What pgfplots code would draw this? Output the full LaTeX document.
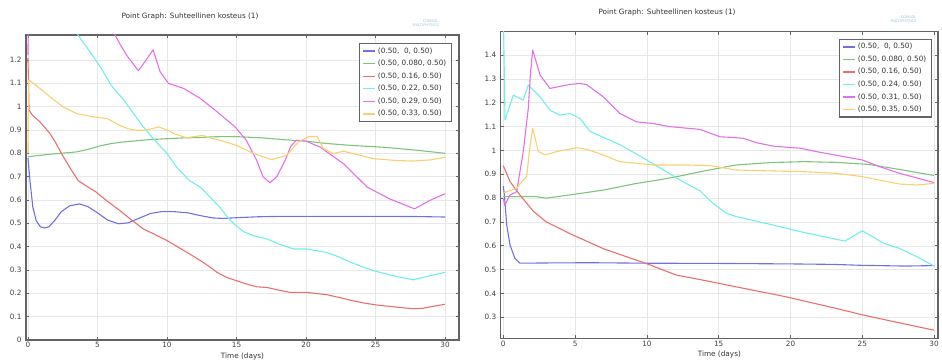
\documentclass[border=0pt]{standalone}
\usepackage{fontspec}
\setmainfont{DejaVu Sans}
\usepackage{pgfplots}
\pgfplotsset{compat=1.18}

\definecolor{cBlue}{RGB}{112,112,228}
\definecolor{cGreen}{RGB}{124,198,124}
\definecolor{cRed}{RGB}{234,112,112}
\definecolor{cCyan}{RGB}{112,238,238}
\definecolor{cPink}{RGB}{226,112,230}
\definecolor{cYellow}{RGB}{248,208,112}
\definecolor{frameGray}{RGB}{100,100,100}
\definecolor{logoBlue}{RGB}{150,195,220}

\newcommand{\smallfont}{\fontsize{7.3}{8.6}\selectfont}

\pgfplotsset{
  rhpanel/.style={
    scale only axis, anchor=south west,
    axis line style={draw=frameGray, line width=1.3pt},
    major tick style={draw=frameGray, line width=0.7pt},
    major tick length=3pt,
    grid=major, grid style={black!9, line width=0.5pt},
    xtick={0,5,...,30},
    tick label style={font=\smallfont, text=black!75},
    /pgf/number format/assume math mode=true,
    yticklabel style={xshift=-1pt},
    xticklabel style={yshift=1pt},
    xlabel={Time (days)},
    xlabel style={font=\smallfont, text=black!80, yshift=2pt},
    every axis plot/.append style={line width=1.1pt, no markers, line join=round},
    legend cell align=left,
    legend style={font=\smallfont, text=black!80, draw=frameGray, line width=1.3pt,
      fill=white, inner xsep=3pt, inner ysep=2pt, row sep=1.5pt,
      at={(1,1)}, anchor=north east},
  }
}

\begin{document}
\begin{tikzpicture}
\path[use as bounding box] (0pt,0pt) rectangle (942pt,361pt);

% ---------------- left panel ----------------
\begin{axis}[rhpanel, at={(26pt,21pt)}, width=433pt, height=305pt,
  xmin=-0.14, xmax=31.0, ymin=0, ymax=1.307,
  ytick={0,0.1,...,1.21},
  legend image code/.code={\draw[#1, line width=1.4pt] (0pt,0pt) -- (12pt,0pt);},
  legend style={xshift=-7pt, yshift=-8pt}]
\addplot[color=cBlue] coordinates {(0,0.78) (0.15,0.68) (0.35,0.57) (0.6,0.51) (0.9,0.485) (1.2,0.48) (1.5,0.485) (1.9,0.51) (2.4,0.55) (3.0,0.575) (3.7,0.583) (4.3,0.572) (5.0,0.545) (5.7,0.515) (6.5,0.498) (7.2,0.502) (8.0,0.522) (8.8,0.542) (9.6,0.55) (10.5,0.55) (11.5,0.545) (12.4,0.533) (13.3,0.523) (14.05,0.521) (15,0.524) (16.5,0.528) (18.3,0.53) (20,0.53) (22,0.53) (25,0.53) (28,0.529) (30,0.527)};
\addlegendentry{(0.50,\ \ 0, 0.50)}
\addplot[color=cGreen] coordinates {(0,0.785) (0.5,0.789) (1.6,0.796) (3.5,0.806) (4.4,0.818) (5.2,0.832) (6.0,0.842) (6.9,0.849) (8.8,0.859) (11.2,0.866) (12.4,0.868) (13.5,0.871) (14.8,0.872) (16.9,0.866) (18.5,0.858) (20,0.852) (21.5,0.842) (23.2,0.834) (25.6,0.826) (28,0.813) (30,0.800)};
\addlegendentry{(0.50, 0.080, 0.50)}
\addplot[color=cRed] coordinates {(0,1.21) (0.08,0.985) (0.3,0.965) (0.86,0.935) (1.58,0.885) (2.0,0.845) (2.4,0.80) (3.0,0.74) (3.6,0.684) (4.2,0.66) (4.9,0.634) (5.7,0.595) (6.6,0.555) (7.5,0.512) (8.3,0.476) (9.2,0.45) (10,0.426) (10.8,0.398) (11.65,0.368) (12.6,0.333) (13.1,0.312) (13.6,0.29) (14.3,0.268) (15,0.254) (15.7,0.24) (16.45,0.228) (17.2,0.225) (18,0.214) (18.85,0.204) (20.05,0.204) (21.5,0.194) (22.4,0.182) (23.4,0.168) (24.2,0.158) (25.1,0.15) (26.8,0.139) (27.7,0.134) (28.4,0.136) (29.2,0.145) (30,0.153)};
\addlegendentry{(0.50, 0.16, 0.50)}
\addplot[color=cCyan] coordinates {(2.5,1.45) (3.6,1.307) (4.4,1.24) (5.2,1.171) (6.0,1.09) (6.9,1.028) (7.6,0.97) (8.3,0.913) (9.2,0.85) (10,0.80) (10.7,0.74) (11.6,0.684) (12.4,0.655) (13.1,0.612) (13.8,0.569) (14.3,0.53) (14.8,0.498) (15.5,0.465) (16.2,0.447) (17.2,0.433) (18.1,0.41) (19.1,0.39) (20.05,0.39) (21.5,0.375) (22.4,0.355) (23.2,0.333) (24.0,0.315) (24.85,0.297) (26.3,0.275) (27.7,0.258) (28.9,0.275) (30,0.29)};
\addlegendentry{(0.50, 0.22, 0.50)}
\addplot[color=cPink] coordinates {(0,1.22) (0.06,1.6) (5.6,1.4) (6.26,1.307) (6.6,1.27) (7.1,1.22) (7.94,1.154) (8.5,1.2) (9.0,1.243) (9.5,1.15) (10.1,1.10) (11.2,1.078) (12.4,1.035) (13.6,0.978) (14.9,0.913) (15.7,0.856) (16.45,0.77) (16.9,0.70) (17.4,0.674) (17.9,0.70) (18.5,0.77) (18.9,0.83) (19.3,0.856) (20,0.852) (21,0.827) (22.7,0.755) (24.4,0.655) (26.0,0.605) (27.8,0.562) (28.9,0.598) (30,0.627)};
\addlegendentry{(0.50, 0.29, 0.50)}
\addplot[color=cYellow] coordinates {(0,0.80) (0.05,1.114) (0.4,1.10) (1.6,1.042) (2.5,1.0) (3.5,0.97) (4.7,0.956) (5.7,0.949) (6.6,0.92) (7.2,0.905) (7.8,0.899) (8.5,0.899) (9.4,0.913) (10.0,0.9) (10.5,0.885) (11.4,0.866) (12.0,0.872) (12.6,0.877) (13.1,0.866) (13.8,0.856) (15,0.834) (16.2,0.80) (17.5,0.773) (18.6,0.791) (19.45,0.849) (20.2,0.872) (20.8,0.872) (21.25,0.82) (21.95,0.799) (22.7,0.809) (24.85,0.777) (26.5,0.769) (27.7,0.767) (29,0.772) (30,0.784)};
\addlegendentry{(0.50, 0.33, 0.50)}
\end{axis}

% ---------------- right panel ----------------
\begin{axis}[rhpanel, at={(500.7pt,22.7pt)}, width=437.3pt, height=306.6pt,
  xmin=-0.18, xmax=30.27, ymin=0.212, ymax=1.498,
  ytick={0.3,0.4,...,1.41},
  legend image code/.code={\draw[#1, line width=1.4pt] (0pt,0pt) -- (12pt,0pt);},
  legend style={xshift=-6pt, yshift=-7pt}]
\addplot[color=cBlue] coordinates {(0,0.85) (0.08,0.813) (0.24,0.687) (0.47,0.603) (0.81,0.547) (1.16,0.527) (3,0.528) (6,0.529) (10,0.527) (15,0.526) (20,0.524) (23,0.522) (25,0.518) (28,0.515) (30,0.517)};
\addlegendentry{(0.50,\ \ 0, 0.50)}
\addplot[color=cGreen] coordinates {(0,0.806) (2.3,0.806) (3.0,0.80) (4.6,0.813) (7,0.834) (9.3,0.862) (10.9,0.877) (12.5,0.895) (13.9,0.913) (16.2,0.939) (18.6,0.949) (20.9,0.953) (23.2,0.95) (25.5,0.941) (27.8,0.918) (30,0.895)};
\addlegendentry{(0.50, 0.080, 0.50)}
\addplot[color=cRed] coordinates {(0,0.936) (0.47,0.869) (1.16,0.813) (2.09,0.745) (3.0,0.70) (4.64,0.651) (6.96,0.588) (9.98,0.525) (12.06,0.477) (13.9,0.456) (16.2,0.428) (19.7,0.386) (23.2,0.337) (25.1,0.309) (27.8,0.274) (30,0.246)};
\addlegendentry{(0.50, 0.16, 0.50)}
\addplot[color=cCyan] coordinates {(0,1.6) (0.12,1.128) (0.7,1.232) (1.39,1.211) (1.74,1.274) (2.56,1.225) (3.25,1.169) (3.94,1.148) (4.64,1.155) (5.34,1.134) (6.03,1.08) (6.96,1.055) (8.1,1.025) (9.7,0.97) (11.1,0.92) (12.3,0.876) (13.7,0.83) (14.6,0.778) (15.55,0.736) (16.25,0.722) (18.3,0.694) (20.7,0.659) (23.45,0.624) (23.8,0.62) (25.0,0.663) (26.5,0.61) (27.6,0.589) (28.8,0.554) (30,0.515)};
\addlegendentry{(0.50, 0.24, 0.50)}
\addplot[color=cPink] coordinates {(0,0.80) (0.1,0.77) (0.47,0.813) (0.93,0.827) (1.39,0.995) (1.74,1.176) (1.9,1.33) (2.05,1.421) (2.56,1.316) (3.25,1.26) (4.64,1.277) (5.34,1.281) (5.8,1.276) (6.96,1.225) (8.12,1.155) (9.28,1.12) (10.4,1.113) (11.6,1.10) (13.7,1.088) (15.1,1.057) (15.8,1.055) (16.7,1.051) (17.65,1.032) (18.8,1.018) (20.7,1.009) (21.8,0.995) (23.45,0.977) (25,0.96) (26.2,0.932) (27.6,0.904) (30,0.865)};
\addlegendentry{(0.50, 0.31, 0.50)}
\addplot[color=cYellow] coordinates {(0,0.82) (0.24,0.827) (0.93,0.841) (1.39,0.876) (1.63,0.89) (1.81,0.995) (2.05,1.093) (2.44,0.995) (2.9,0.981) (3.72,0.995) (5.1,1.011) (5.8,1.005) (6.96,0.981) (8.1,0.953) (10.4,0.939) (12.8,0.939) (14.4,0.936) (16.2,0.918) (18.6,0.914) (20.9,0.911) (23.2,0.904) (25,0.89) (27.6,0.859) (28.8,0.855) (30,0.862)};
\addlegendentry{(0.50, 0.35, 0.50)}
\end{axis}

% titles and logo text
\node[font=\smallfont, text=black!80] at (190pt,345pt) {Point Graph: Suhteellinen kosteus (1)};
\node[font=\smallfont, text=black!80] at (667pt,349pt) {Point Graph: Suhteellinen kosteus (1)};
\node[font=\fontsize{3.6}{4}\selectfont, text=logoBlue, align=right, anchor=east] at (442pt,338pt) {COMSOL\\MULTIPHYSICS};
\node[font=\fontsize{3.6}{4}\selectfont, text=logoBlue, align=right, anchor=east] at (920pt,342pt) {COMSOL\\MULTIPHYSICS};
\end{tikzpicture}
\end{document}
